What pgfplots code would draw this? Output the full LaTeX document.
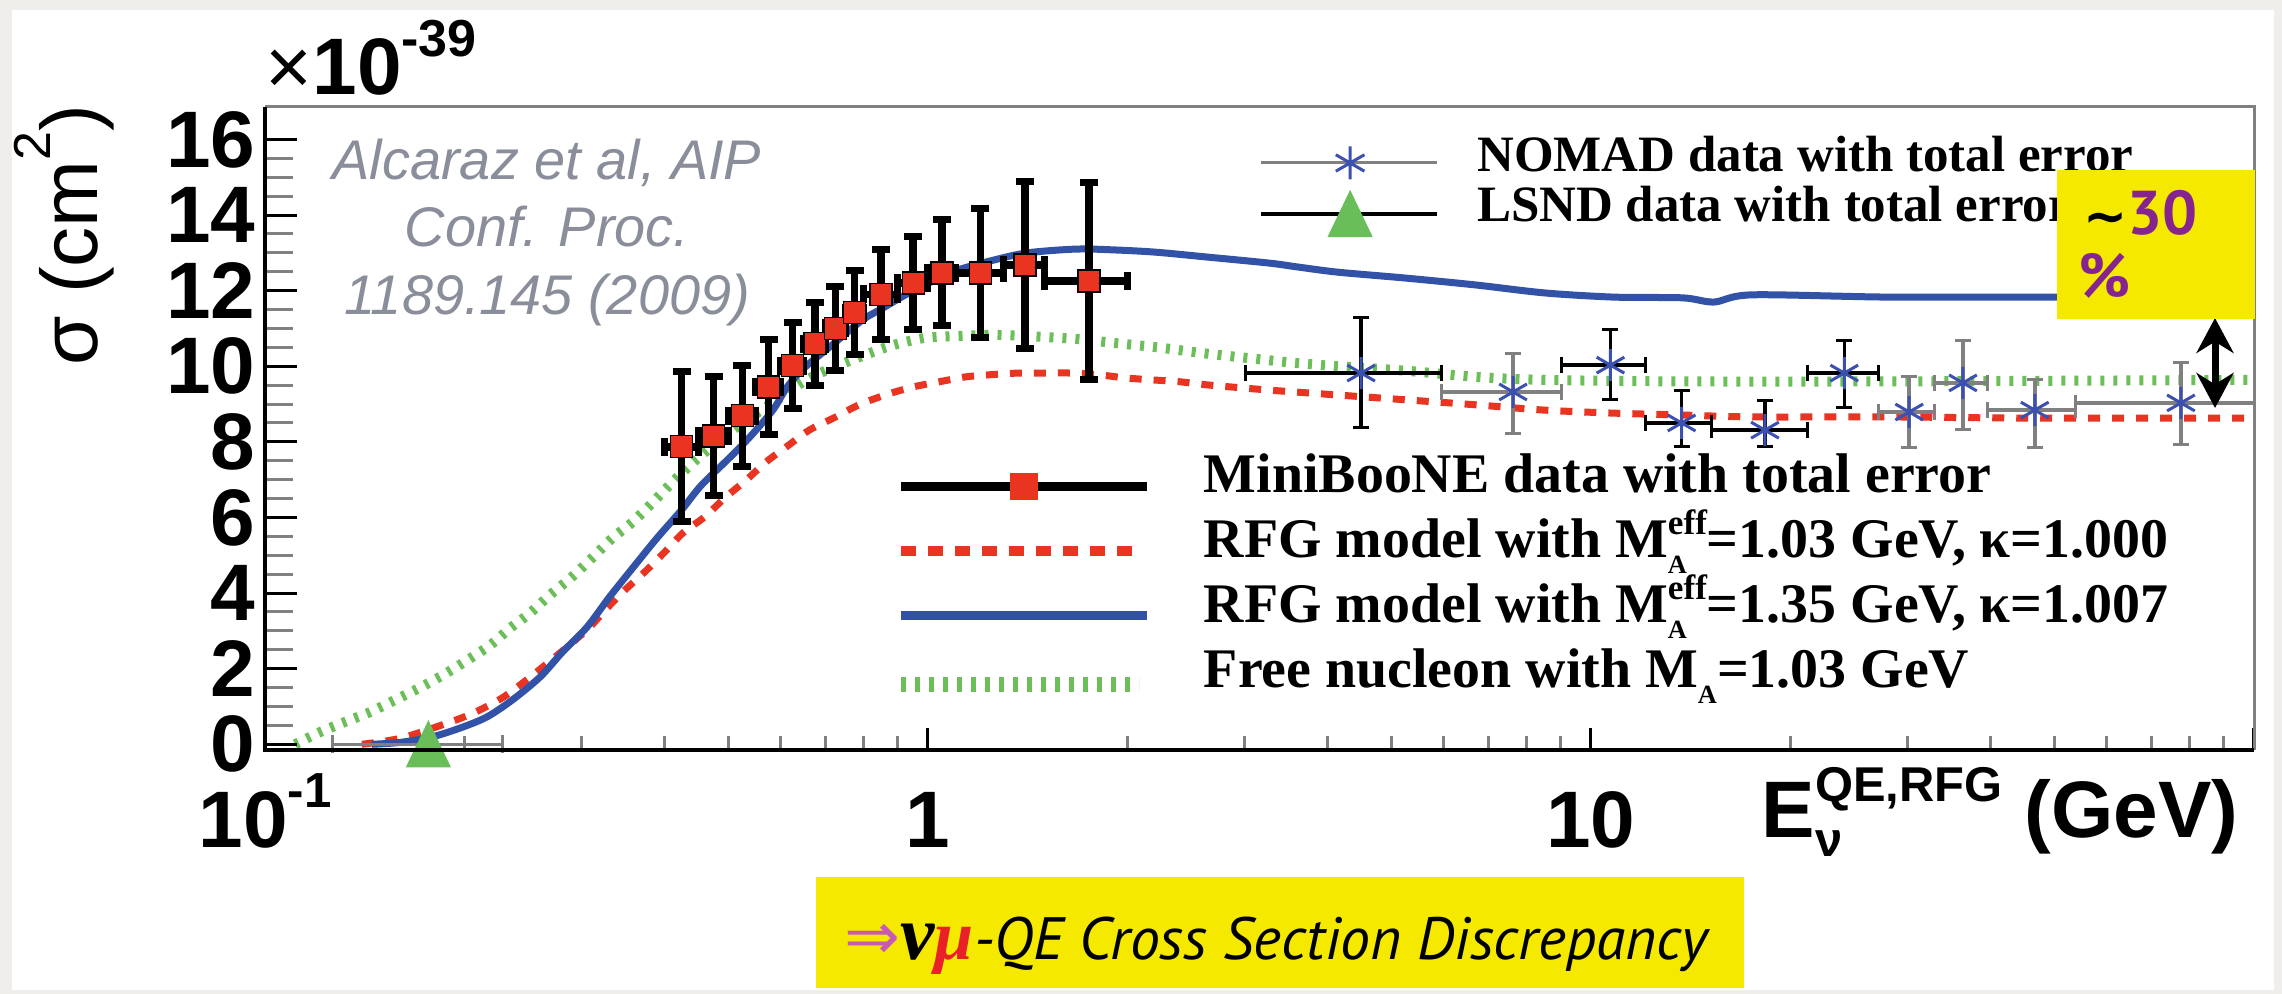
\documentclass[border=0pt]{standalone}
\usepackage{fontspec}
\setmainfont{Liberation Sans}
\newfontfamily\tnr{Liberation Serif}
\newfontfamily\pts{PT Sans}
\newfontfamily\dvs{DejaVu Sans}
\usepackage{pgfplots}
\pgfplotsset{compat=1.18}
\usetikzlibrary{arrows.meta}
\definecolor{bgc}{RGB}{239,238,234}
\definecolor{rfgblue}{RGB}{50,82,168}
\definecolor{rfgred}{RGB}{234,52,34}
\definecolor{fngreen}{RGB}{108,190,88}
\definecolor{nomadblue}{RGB}{60,80,175}
\definecolor{lsndgreen}{RGB}{106,190,90}
\definecolor{axgrey}{RGB}{128,128,128}
\definecolor{refgrey}{RGB}{138,142,155}
\definecolor{yel}{RGB}{245,233,0}
\definecolor{purp}{RGB}{134,36,143}
\definecolor{mag}{RGB}{200,90,180}
\definecolor{mured}{RGB}{232,32,40}
\newcommand\Meff{\raisebox{-0.28em}{\makebox[0pt][l]{\fontsize{7.5pt}{8pt}\selectfont A}}\raisebox{0.42em}{\fontsize{10pt}{11pt}\selectfont eff}}
\newcommand\MA{\raisebox{-0.28em}{\fontsize{7.5pt}{8pt}\selectfont A}}
\newcommand\tickfont{\bfseries\fontsize{22.8pt}{27pt}\selectfont}
\begin{document}
\begin{tikzpicture}
\fill[bgc] (0,0) rectangle (22.82,9.94);
\fill[white] (0.12,0.04) rectangle (22.74,9.84);
\useasboundingbox (0,0) rectangle (22.82,9.94);

% ---------- axis 1: curves, MiniBooNE, x ticks, bottom legend
\begin{axis}[xmode=log, xmin=0.1, xmax=100, ymin=-0.151, ymax=16.86,
  width=19.89cm, height=6.43cm, scale only axis, at={(2.65cm,2.44cm)}, anchor=south west,
  axis line style={draw=none}, clip=false, tick pos=left, tick align=inside,
  legend cell align=left,
  xtick={0.1,1,10,100},
  xticklabels={{10\raisebox{0.4cm}{\fontsize{14pt}{14pt}\selectfont -1}},1,10,{}},
  ytick=\empty,
  major tick length=0.22cm, minor tick length=0.14cm,
  every major tick/.append style={black, line width=0.03cm},
  every minor tick/.append style={axgrey, line width=0.03cm},
  xticklabel style={font=\tickfont, anchor=base, yshift=-0.98cm, inner sep=0pt},
  legend style={at={(axis description cs:0.3162,0.4666)}, anchor=north west, draw=none, fill=none,
    inner sep=0pt, outer sep=0pt, row sep=0pt, column sep=0.52cm,
    font=\tnr\bfseries\fontsize{15.9pt}{18pt}\selectfont,
    nodes={inner sep=0pt, text height=0.43cm, text depth=0.22cm}},
]
\addlegendimage{legend image code/.code={\draw[black, line width=0.085cm] (0cm,-0.04cm) -- (2.46cm,-0.04cm); \fill[rfgred] (1.09cm,-0.17cm) rectangle (1.36cm,0.09cm);}}
\addlegendentry{MiniBooNE data with total error}
\addlegendimage{legend image code/.code={\draw[rfgred, line width=0.1cm, dash pattern=on 0.15cm off 0.12cm] (0cm,-0.04cm) -- (2.34cm,-0.04cm);}}
\addlegendentry{RFG model with M\Meff=1.03 GeV, κ=1.000}
\addlegendimage{legend image code/.code={\draw[rfgblue, line width=0.09cm] (0cm,-0.03cm) -- (2.46cm,-0.03cm);}}
\addlegendentry{RFG model with M\Meff=1.35 GeV, κ=1.007}
\addlegendimage{legend image code/.code={\draw[fngreen, line width=0.15cm, dash pattern=on 0.05cm off 0.09cm] (0cm,-0.07cm) -- (2.38cm,-0.07cm);}}
\addlegendentry{Free nucleon with M\MA=1.03 GeV}
% free nucleon (green dotted)
\addplot[forget plot, fngreen, line width=0.1cm, dash pattern=on 0.04cm off 0.09cm, smooth] table[row sep=\\] {
x y\\
0.111 0.0\\ 0.121 0.32\\ 0.132 0.59\\ 0.144 0.85\\ 0.157 1.17\\ 0.171 1.49\\ 0.1855 1.83\\
0.2017 2.22\\ 0.2185 2.62\\ 0.2342 3.07\\ 0.251 3.47\\ 0.269 3.95\\ 0.290 4.42\\ 0.311 4.92\\
0.334 5.45\\ 0.358 5.87\\ 0.3835 6.38\\ 0.4125 6.95\\ 0.442 7.45\\ 0.47 7.85\\ 0.52 8.45\\
0.59 9.1\\ 0.65 9.6\\ 0.704 9.9\\ 0.79 10.25\\ 0.886 10.56\\ 0.99 10.75\\ 1.11 10.8\\ 1.25 10.83\\
1.41 10.8\\ 1.68 10.72\\ 1.90 10.62\\ 2.22 10.5\\ 2.59 10.35\\ 3.03 10.22\\ 3.53 10.1\\ 4.15 10.0\\
5.28 9.88\\ 6.71 9.72\\ 8.52 9.64\\ 13.76 9.6\\ 28.2 9.6\\ 100 9.64\\
};
% RFG 1.03 (red dashed)
\addplot[forget plot, rfgred, line width=0.07cm, dash pattern=on 0.12cm off 0.12cm, smooth] table[row sep=\\] {
x y\\
0.140 0.0\\ 0.161 0.17\\ 0.194 0.64\\ 0.211 0.91\\ 0.229 1.25\\ 0.248 1.7\\ 0.267 2.15\\ 0.288 2.63\\
0.309 3.1\\ 0.328 3.6\\ 0.349 4.08\\ 0.374 4.56\\ 0.401 5.09\\ 0.427 5.59\\ 0.46 6.01\\ 0.494 6.52\\
0.532 6.99\\ 0.57 7.47\\ 0.615 7.9\\ 0.662 8.31\\ 0.726 8.66\\ 0.787 8.98\\ 0.862 9.24\\ 0.948 9.45\\
1.04 9.59\\ 1.14 9.72\\ 1.25 9.78\\ 1.37 9.82\\ 1.51 9.82\\ 1.65 9.82\\ 1.82 9.77\\ 1.99 9.69\\
2.18 9.64\\ 2.40 9.59\\ 2.63 9.51\\ 3.27 9.37\\ 4.15 9.24\\ 5.28 9.11\\ 6.71 8.98\\ 8.52 8.84\\
10.83 8.76\\ 13.76 8.71\\ 17.5 8.66\\ 28.2 8.66\\ 45.4 8.63\\ 100 8.63\\
};
% RFG 1.35 (blue solid)
\addplot[forget plot, rfgblue, line width=0.07cm, smooth] table[row sep=\\] {
x y\\
0.145 0.0\\ 0.160 0.05\\ 0.179 0.2\\ 0.197 0.43\\ 0.216 0.72\\ 0.236 1.17\\ 0.260 1.78\\ 0.281 2.44\\
0.306 3.1\\ 0.331 3.9\\ 0.36 4.7\\ 0.39 5.45\\ 0.425 6.2\\ 0.455 6.85\\ 0.50 7.55\\ 0.54 8.15\\
0.584 8.85\\ 0.613 9.45\\ 0.65 9.95\\ 0.704 10.45\\ 0.744 10.8\\ 0.8 11.25\\ 0.847 11.5\\ 0.938 11.95\\
1.03 12.3\\ 1.11 12.55\\ 1.25 12.8\\ 1.41 13.0\\ 1.67 13.1\\ 1.9 13.08\\ 2.2 13.02\\ 2.6 12.9\\
3.27 12.73\\ 3.6 12.63\\ 4.15 12.49\\ 5.28 12.33\\ 6.71 12.15\\ 8.52 11.94\\ 10.83 11.83\\ 13.76 11.81\\
15.33 11.70\\ 17.5 11.89\\ 28.2 11.83\\ 50 11.83\\ 100 11.83\\
};
% MiniBooNE data
\addplot[forget plot, only marks, mark=square*, mark size=0.11cm, mark options={fill=rfgred, draw=none},
  error bars/.cd, x dir=both, x explicit, y dir=both, y explicit,
  error bar style={black, line width=0.075cm},
  error mark options={rotate=90, black, line width=0.07cm, mark size=0.09cm}]
  table[x=x, y=y, x error minus=xm, x error plus=xp, y error=ey, row sep=\\] {
x y xm xp ey\\
0.425 7.87 0.025 0.025 1.98\\
0.475 8.16 0.025 0.025 1.57\\
0.525 8.69 0.025 0.025 1.34\\
0.575 9.45 0.025 0.025 1.25\\
0.625 10.02 0.025 0.025 1.13\\
0.675 10.6 0.025 0.025 1.10\\
0.725 11.0 0.025 0.025 1.10\\
0.775 11.42 0.025 0.025 1.12\\
0.85 11.9 0.05 0.05 1.19\\
0.95 12.2 0.05 0.05 1.24\\
1.05 12.47 0.05 0.05 1.40\\
1.2 12.47 0.1 0.1 1.70\\
1.4 12.68 0.1 0.1 2.20\\
1.75 12.26 0.25 0.25 2.60\\
};
\end{axis}

% ---------- axis 2: y ticks, NOMAD, LSND, top legend
\begin{axis}[xmode=log, xmin=0.1, xmax=100, ymin=-0.151, ymax=16.86,
  width=19.89cm, height=6.43cm, scale only axis, at={(2.65cm,2.44cm)}, anchor=south west,
  axis line style={draw=none}, clip=false, tick pos=left, tick align=inside,
  legend cell align=left,
  xtick=\empty,
  ytick={0,2,4,6,8,10,12,14,16}, yticklabels={0,2,4,6,8,10,12,14,16},
  minor y tick num=3,
  major tick length=0.32cm, minor tick length=0.28cm,
  every major tick/.append style={black, line width=0.03cm},
  every minor tick/.append style={axgrey, line width=0.03cm},
  yticklabel style={font=\tickfont, anchor=east, xshift=-0.09cm, inner sep=0pt},
  legend style={at={(axis description cs:0.4997,0.9549)}, anchor=north west, draw=none, fill=none,
    inner sep=0pt, outer sep=0pt, row sep=0pt, column sep=0.38cm,
    font=\tnr\bfseries\fontsize{14.5pt}{17pt}\selectfont,
    nodes={inner sep=0pt, text height=0.36cm, text depth=0.14cm}},
]
\addlegendimage{legend image code/.code={\draw[axgrey, line width=0.03cm] (0cm,-0.02cm) -- (1.76cm,-0.02cm);
  \draw[nomadblue, line width=0.03cm] (0.89cm,-0.185cm) -- (0.89cm,0.145cm) (0.747cm,-0.1025cm) -- (1.033cm,0.0625cm) (0.747cm,0.0625cm) -- (1.033cm,-0.1025cm);}}
\addlegendentry{NOMAD data with total error}
\addlegendimage{legend image code/.code={\draw[black, line width=0.045cm] (0cm,-0.03cm) -- (1.76cm,-0.03cm);
  \fill[lsndgreen] (0.89cm,0.195cm) -- (0.6743cm,-0.255cm) -- (1.1057cm,-0.255cm) -- cycle;}}
\addlegendentry{LSND data with total error}
% NOMAD (black bars)
\addplot[forget plot, only marks, mark=asterisk, mark size=0.16cm, mark options={nomadblue, line width=0.03cm},
  error bars/.cd, x dir=both, x explicit, y dir=both, y explicit,
  error bar style={black, line width=0.035cm},
  error mark options={rotate=90, black, line width=0.03cm, mark size=0.08cm}]
  table[x=x, y=y, x error minus=xm, x error plus=xp, y error plus=yp, y error minus=ym, row sep=\\] {
x y xm xp yp ym\\
4.50 9.82 1.49 1.46 1.48 1.45\\
10.7 10.03 1.66 1.4 0.95 0.92\\
13.7 8.5 1.6 1.5 0.87 0.63\\
18.3 8.31 3.1 2.9 0.79 0.44\\
24.1 9.82 2.9 3.0 0.85 0.90\\
};
% NOMAD (grey bars)
\addplot[forget plot, only marks, mark=asterisk, mark size=0.16cm, mark options={nomadblue, line width=0.03cm},
  error bars/.cd, x dir=both, x explicit, y dir=both, y explicit,
  error bar style={axgrey, line width=0.035cm},
  error mark options={rotate=90, axgrey, line width=0.03cm, mark size=0.08cm}]
  table[x=x, y=y, x error minus=xm, x error plus=xp, y error plus=yp, y error minus=ym, row sep=\\] {
x y xm xp yp ym\\
7.63 9.32 1.67 1.41 1.03 1.11\\
30.2 8.79 3.1 2.8 0.95 0.95\\
36.4 9.56 3.4 3.2 1.11 1.22\\
46.7 8.84 7.1 7.1 0.80 1.00\\
77.6 9.03 23.8 22.4 1.06 1.09\\
};
% LSND
\addplot[forget plot, only marks, mark=triangle*, mark size=0.30cm,
  mark options={lsndgreen, xscale=0.83, yshift=-0.075cm},
  error bars/.cd, x dir=both, x explicit,
  error bar style={axgrey, line width=0.03cm},
  error mark options={rotate=90, axgrey, line width=0.03cm, mark size=0.09cm}]
  table[x=x, y=y, x error minus=xm, x error plus=xp, row sep=\\] {
x y xm xp\\
0.1764 0.0 0.0498 0.0514\\
};
\end{axis}

% frame
\draw[axgrey, line width=0.03cm] (2.65,8.87) -- (22.54,8.87) -- (22.54,2.44);
\draw[black, line width=0.04cm] (2.65,8.87) -- (2.65,2.44) -- (22.54,2.44);

% axis titles
\node[anchor=base west, inner sep=0pt] at (2.65,8.99) {\fontsize{22.8pt}{27pt}\selectfont ×\textbf{10}\raisebox{0.38cm}{\bfseries\fontsize{14.8pt}{15pt}\selectfont -39}};
\node[rotate=90, anchor=base, inner sep=0pt] at (0.97,7.59) {\fontsize{22.8pt}{27pt}\selectfont σ (cm\raisebox{0.47cm}{\fontsize{14.8pt}{15pt}\selectfont 2})};
\node[anchor=base west, inner sep=0pt] at (17.61,1.56) {\bfseries\fontsize{22.8pt}{27pt}\selectfont E\rlap{\raisebox{-0.19cm}{\fontsize{13.9pt}{14pt}\selectfont ν}}\raisebox{0.36cm}{\fontsize{13.9pt}{14pt}\selectfont QE,RFG}\hspace{0.22cm}(GeV)};

% reference text
\node[refgrey, anchor=base, inner sep=0pt] at (5.47,8.14) {\itshape\fontsize{15.9pt}{18pt}\selectfont Alcaraz et al, AIP};
\node[refgrey, anchor=base, inner sep=0pt] at (5.47,7.47) {\itshape\fontsize{15.9pt}{18pt}\selectfont Conf. Proc.};
\node[refgrey, anchor=base, inner sep=0pt] at (5.47,6.79) {\itshape\fontsize{15.9pt}{18pt}\selectfont 1189.145 (2009)};

% ~30% box and arrow
\draw[line width=0.07cm, {Stealth[length=0.35cm, width=0.37cm]}-{Stealth[length=0.35cm, width=0.37cm]}] (22.15,6.76) -- (22.15,5.86);
\fill[yel] (20.57,6.75) rectangle (22.55,8.24);
\node[anchor=base west, inner sep=0pt] at (20.83,7.59) {{\dvs\bfseries\fontsize{15pt}{17pt}\selectfont ∼}{\pts\bfseries\color{purp}\fontsize{17.6pt}{20pt}\selectfont 30}};
\node[anchor=base west, inner sep=0pt] at (20.78,6.96) {\pts\bfseries\color{purp}\fontsize{17.6pt}{20pt}\selectfont \%};

% bottom banner
\fill[yel] (8.16,0.06) rectangle (17.44,1.17);
\node[anchor=base west, inner sep=0pt] at (8.44,0.34) {{\dvs\color{mag}\fontsize{19pt}{20pt}\selectfont ⇒}{\tnr\bfseries\itshape\fontsize{22pt}{22pt}\selectfont ν}{\tnr\bfseries\itshape\color{mured}\fontsize{20pt}{22pt}\selectfont μ}{\pts\itshape\fontsize{17pt}{20pt}\selectfont -QE Cross Section Discrepancy}};
\end{tikzpicture}
\end{document}
